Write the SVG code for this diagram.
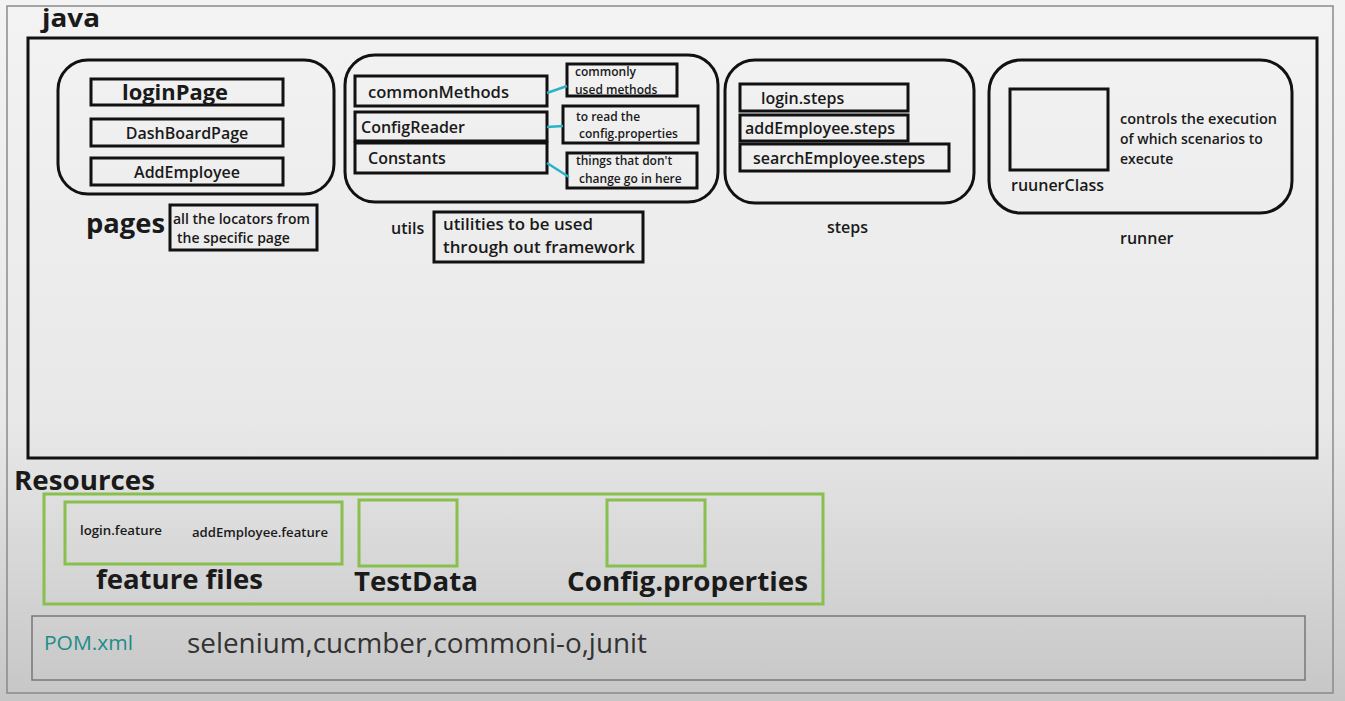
<svg xmlns="http://www.w3.org/2000/svg" width="1345" height="701" viewBox="0 0 1345 701">
<defs>
<linearGradient id="bg" x1="0" y1="0" x2="0" y2="1">
<stop offset="0" stop-color="#f3f3f3"/>
<stop offset="0.6" stop-color="#e8e8e8"/>
<stop offset="1" stop-color="#c6c6c6"/>
</linearGradient>
<style>
text{font-family:"Open Sans","Noto Sans","DejaVu Sans",sans-serif;fill:#1a1a1a;font-weight:600}
.box{fill:none;stroke:#111;stroke-width:3}
.rbox{fill:none;stroke:#111;stroke-width:3}
.grn{fill:none;stroke:#88c04e;stroke-width:3}
.conn{stroke:#2ab3c7;stroke-width:2.5;fill:none}
.b{font-weight:700}
.s16{font-size:16px}
.s14{font-size:14px}
.s12{font-size:12px}
</style>
</defs>
<rect x="0" y="0" width="1345" height="701" fill="url(#bg)"/>
<rect x="7" y="6" width="1326" height="687" fill="none" stroke="#8a8a8a" stroke-width="1.5"/>
<text x="42" y="27" class="b" style="font-size:25px" textLength="58" lengthAdjust="spacingAndGlyphs">java</text>
<g id="java">
<rect x="28" y="38" width="1289" height="420" class="box"/>
</g>
<g id="pages">
<rect x="58" y="60" width="276" height="134" rx="30" class="rbox"/>
<rect x="91" y="79" width="192" height="26" class="box"/>
<text x="122" y="100" class="b" style="font-size:21px" textLength="106" lengthAdjust="spacingAndGlyphs">loginPage</text>
<rect x="91" y="119" width="192" height="27" class="box"/>
<text x="187" y="139" text-anchor="middle" class="s16">DashBoardPage</text>
<rect x="91" y="158" width="192" height="27" class="box"/>
<text x="187" y="178" text-anchor="middle" class="s16">AddEmployee</text>
<text x="86" y="233" class="b" style="font-size:27px" textLength="79" lengthAdjust="spacingAndGlyphs">pages</text>
<rect x="170" y="205" width="147" height="45" class="box"/>
<text x="173" y="224" class="s14">all the locators from</text>
<text x="177" y="243" class="s14">the specific page</text>
</g>
<g id="utils">
<rect x="345" y="55" width="373" height="147" rx="30" class="rbox"/>
<rect x="355" y="76" width="192" height="30" class="box"/>
<text x="368" y="98" class="s16" textLength="141" lengthAdjust="spacingAndGlyphs">commonMethods</text>
<rect x="355" y="112" width="192" height="29" class="box"/>
<text x="361" y="133" class="s16">ConfigReader</text>
<rect x="355" y="143" width="192" height="30" class="box"/>
<text x="368" y="164" class="s16">Constants</text>
<rect x="567" y="64" width="110" height="32" class="box"/>
<text x="575" y="76" class="s12">commonly</text>
<text x="575" y="94" class="s12">used methods</text>
<rect x="563" y="106" width="135" height="37" class="box"/>
<text x="576" y="121" class="s12">to read the</text>
<text x="579" y="138" class="s12">config.properties</text>
<rect x="567" y="153" width="130" height="35" class="box"/>
<text x="576" y="165" class="s12">things that don't</text>
<text x="579" y="183" class="s12">change go in here</text>
<text x="391" y="234" class="s16">utils</text>
<rect x="434" y="212" width="209" height="50" class="box"/>
<text x="443" y="230" class="s16" textLength="150" lengthAdjust="spacingAndGlyphs">utilities to be used</text>
<text x="443" y="253" class="s16" textLength="192" lengthAdjust="spacingAndGlyphs">through out framework</text>
</g>
<g id="steps">
<rect x="725" y="60" width="249" height="143" rx="30" class="rbox"/>
<rect x="740" y="84" width="168" height="27" class="box"/>
<text x="761" y="104" class="s16">login.steps</text>
<rect x="740" y="115" width="168" height="26" class="box"/>
<text x="745" y="134" class="s16">addEmployee.steps</text>
<rect x="740" y="144" width="209" height="27" class="box"/>
<text x="753" y="164" class="s16">searchEmployee.steps</text>
<text x="827" y="233" class="s16">steps</text>
</g>
<g id="runner">
<rect x="989" y="60" width="303" height="153" rx="32" class="rbox"/>
<rect x="1010" y="89" width="98" height="81" class="box"/>
<text x="1011" y="191" class="s16">ruunerClass</text>
<text x="1120" y="124" class="s14" textLength="157" lengthAdjust="spacingAndGlyphs">controls the execution</text>
<text x="1120" y="144" class="s14">of which scenarios to</text>
<text x="1120" y="164" class="s14">execute</text>
<text x="1120" y="244" class="s16">runner</text>
</g>
<g id="connectors">
<line x1="547" y1="93" x2="567" y2="86" class="conn"/>
<line x1="547" y1="127" x2="563" y2="126" class="conn"/>
<line x1="547" y1="163" x2="569" y2="177" class="conn"/>
</g>
<g id="resources">
<text x="14" y="490" class="b" style="font-size:27px" textLength="141" lengthAdjust="spacingAndGlyphs">Resources</text>
<rect x="44" y="494" width="779" height="110" class="grn"/>
<rect x="65" y="502" width="277" height="62" class="grn"/>
<text x="80" y="535" class="s12" style="font-size:13px" textLength="82" lengthAdjust="spacingAndGlyphs">login.feature</text>
<text x="192" y="537" class="s12" style="font-size:13px" textLength="136" lengthAdjust="spacingAndGlyphs">addEmployee.feature</text>
<text x="96" y="589" class="b" style="font-size:27px" textLength="167" lengthAdjust="spacingAndGlyphs">feature files</text>
<rect x="359" y="500" width="98" height="66" class="grn"/>
<text x="354" y="591" class="b" style="font-size:27px" textLength="124" lengthAdjust="spacingAndGlyphs">TestData</text>
<rect x="607" y="500" width="98" height="66" class="grn"/>
<text x="567" y="591" class="b" style="font-size:27px" textLength="241" lengthAdjust="spacingAndGlyphs">Config.properties</text>
</g>
<g id="pom">
<rect x="32" y="616" width="1273" height="64" fill="none" stroke="#777" stroke-width="1.5"/>
<text x="44" y="650" style="font-size:20px;font-weight:400;fill:#1e8c88" textLength="89" lengthAdjust="spacingAndGlyphs">POM.xml</text>
<text x="187" y="653" style="font-size:28px;font-weight:400;fill:#333" textLength="460" lengthAdjust="spacingAndGlyphs">selenium,cucmber,commoni-o,junit</text>
</g>
</svg>
